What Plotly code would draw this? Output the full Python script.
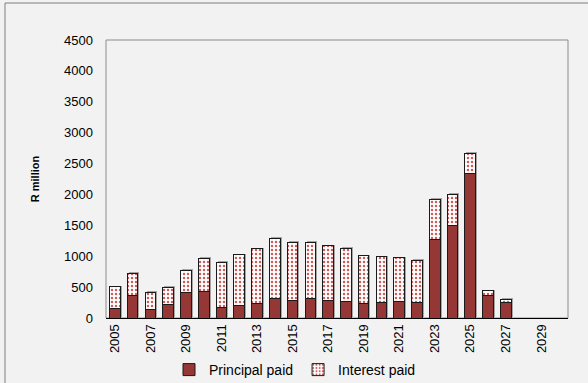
import plotly.graph_objects as go

years = [str(y) for y in range(2005, 2031)]
principal = [157, 372, 130, 221, 405, 437, 173, 210, 237, 308, 286, 318, 291, 270,
             237, 254, 270, 243, 1274, 1500, 2336, 372, 254, 0, 0, 0]
total = [507, 723, 416, 497, 777, 966, 901, 1020, 1117, 1290, 1230, 1230, 1171, 1128,
         1004, 988, 977, 934, 1926, 2002, 2666, 442, 302, 0, 0, 0]
interest = [t - p for t, p in zip(total, principal)]
y_ticks = list(range(0, 5000, 500))
x_ticks = [str(y) for y in range(2005, 2031, 2)]

W, H = 588, 383
ML, MR, MT, MB = 106, 20, 40, 65
pw, ph = W - ML - MR, H - MT - MB
Y_MAX = 4500
n = len(years)

# pixel -> data-unit conversions for the drop shadow offset
cat_per_px = n / pw
val_per_px = Y_MAX / ph
sh_dx, sh_dy = 1.5, 1.0

fig = go.Figure()
# soft drop shadow behind the stacked columns (base subplot, drawn first)
fig.add_trace(go.Bar(
    x=years, y=total, xaxis="x", yaxis="y", showlegend=False, hoverinfo="skip",
    marker=dict(color="rgba(140,140,140,0.75)", line=dict(width=0)),
))
fig.add_trace(go.Bar(
    x=years, y=principal, name="Principal paid", xaxis="x2", yaxis="y2",
    marker=dict(color="#953735", line=dict(color="#1a1a1a", width=1)),
))
fig.add_trace(go.Bar(
    x=years, y=interest, name="Interest paid", xaxis="x2", yaxis="y2",
    marker=dict(color="white", line=dict(color="#1a1a1a", width=1),
                pattern=dict(shape=".", fgcolor="#cc5c5c", bgcolor="white",
                             size=4, solidity=0.3, fillmode="replace")),
))

def px_x(x):
    return (x - ML) / pw

def px_y(y):
    return (H - MB - y) / ph

shapes = [
    # plot area frame
    dict(type="rect", xref="paper", yref="paper", x0=0, x1=1, y0=0, y1=1,
         line=dict(color="#8c8c8c", width=1), layer="below"),
    # outer frame of the figure
    dict(type="line", xref="paper", yref="paper", x0=px_x(5), x1=px_x(5),
         y0=px_y(3), y1=px_y(400), line=dict(color="#7f7f7f", width=1)),
    dict(type="line", xref="paper", yref="paper", x0=px_x(5), x1=px_x(600),
         y0=px_y(3), y1=px_y(3), line=dict(color="#7f7f7f", width=1)),
]

fig.update_layout(
    width=W, height=H,
    margin=dict(l=ML, r=MR, t=MT, b=MB, autoexpand=False),
    paper_bgcolor="#f2f2f2", plot_bgcolor="#f2f2f2",
    barmode="stack", bargap=0.4,
    font=dict(family="Liberation Sans, Arial, sans-serif", size=13, color="black"),
    showlegend=True,
    legend=dict(orientation="h", xref="container", yref="container",
                x=295 / W, xanchor="center", y=1 - 370 / H, yanchor="middle",
                font=dict(size=14), bgcolor="rgba(0,0,0,0)",
                itemwidth=30, traceorder="normal"),
    shapes=shapes,
    xaxis=dict(type="category", categoryorder="array", categoryarray=years,
               range=[-0.5 - sh_dx * cat_per_px, n - 0.5 - sh_dx * cat_per_px],
               visible=False, automargin=False),
    yaxis=dict(range=[-sh_dy * val_per_px, Y_MAX - sh_dy * val_per_px],
               visible=False, automargin=False),
    xaxis2=dict(type="category", categoryorder="array", categoryarray=years,
                overlaying="x", anchor="y2", side="bottom",
                range=[-0.5, n - 0.5],
                tickmode="array", tickvals=x_ticks, ticktext=x_ticks,
                tickangle=-90, showgrid=False, showline=True, linecolor="black",
                linewidth=1, ticks="", zeroline=False, automargin=False),
    yaxis2=dict(range=[0, Y_MAX], overlaying="y", anchor="x2", side="left",
                tickmode="array", tickvals=y_ticks,
                showgrid=False, zeroline=False, showline=False, ticks="",
                ticklabelstandoff=12, automargin=False,
                title=dict(text="<b>R million</b>", font=dict(size=11), standoff=22)),
)

fig.write_html("out.html")
